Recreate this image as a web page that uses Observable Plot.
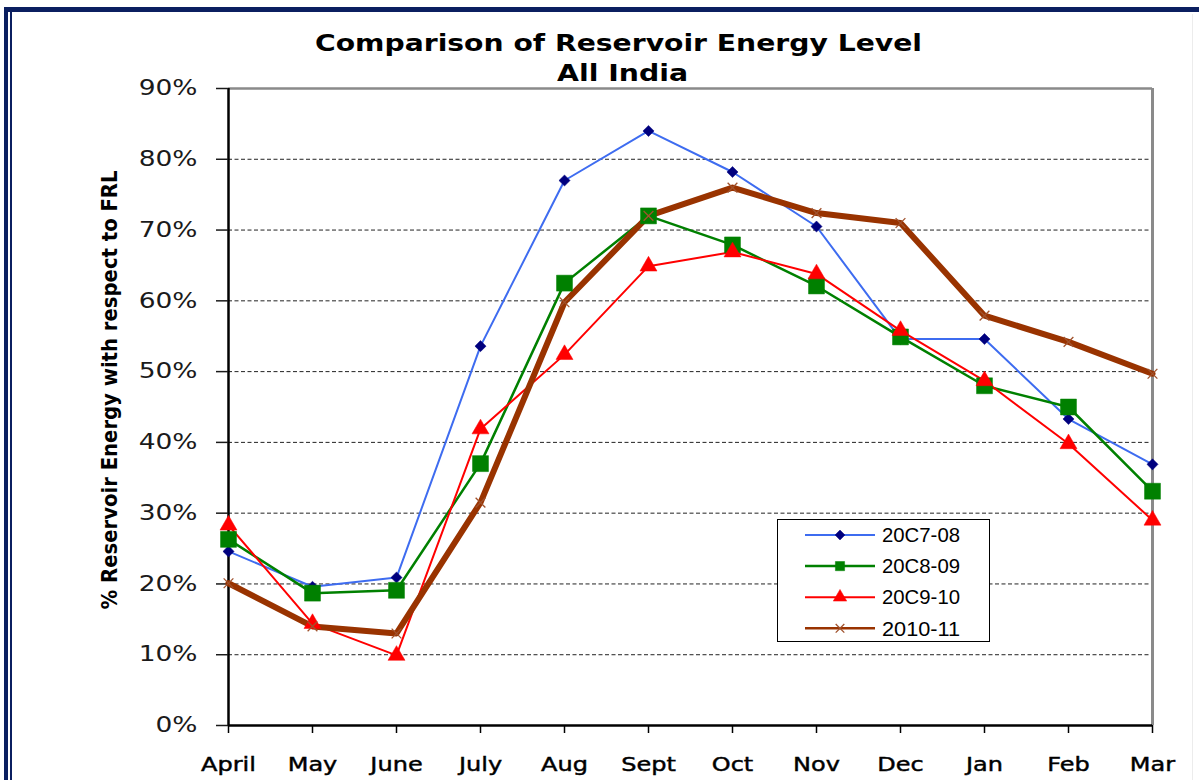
<!DOCTYPE html>
<html>
<head>
<meta charset="utf-8">
<script src="https://cdn.jsdelivr.net/npm/d3@7"></script>
<script src="https://cdn.jsdelivr.net/npm/@observablehq/plot@0.6"></script>
<style>
  html, body { margin: 0; padding: 0; background: #fff; }
  #wrap { position: relative; width: 1199px; height: 780px; overflow: hidden; background: #fff; }
  #wrap > svg { position: absolute; left: 0; top: 0; }
  .fr { position: absolute; background: #0b1f60; }
  #overlay { pointer-events: none; }
</style>
</head>
<body>
<div id="wrap">
  <div class="fr" style="left:4px;top:7px;width:1195px;height:5px;"></div>
  <div class="fr" style="left:4px;top:7px;width:4px;height:773px;"></div>
  <div class="fr" style="left:10px;top:12px;width:2px;height:768px;"></div>
  <div style="position:absolute;left:1192px;top:14px;width:1px;height:766px;background:#ececec;"></div>
</div>
<script>
// ---------------- data ----------------
const months = ["April", "May", "June", "July", "Aug", "Sept", "Oct", "Nov", "Dec", "Jan", "Feb", "Mar"];
const seriesNames = ["20C7-08", "20C8-09", "20C9-10", "2010-11"];
const values2007 = [24.6, 19.6, 20.9, 53.6, 77.0, 84.0, 78.2, 70.5, 54.6, 54.6, 43.3, 36.9];
const values2008 = [26.3, 18.7, 19.1, 37.0, 62.5, 72.0, 67.9, 62.1, 54.9, 48.0, 45.0, 33.1];
const values2009 = [28.3, 14.4, 9.9, 41.9, 52.4, 64.9, 66.9, 63.8, 55.8, 48.7, 39.8, 29.0];
const values2010 = [20.1, 14.0, 13.0, 31.5, 59.8, 72.0, 76.0, 72.4, 71.0, 57.9, 54.2, 49.7];
const yTicks = [0, 10, 20, 30, 40, 50, 60, 70, 80, 90];
const gridValues = [10, 20, 30, 40, 50, 60, 70, 80];
const titleLines = ["Comparison of Reservoir Energy Level", "All India"];
const yAxisTitle = "% Reservoir Energy with respect to FRL";

// ---------------- styles ----------------
const lineColors = ["#3e6cf0", "#008000", "#ff0000", "#993300"];
const markerColors = ["#00007e", "#008000", "#ff0000", "#a0522d"];
const lineWidths = [2, 2.5, 2, 6];
const symbols = ["diamond2", "square", "triangle", "times"];
const radii = [5, 9, 6.3, 4.5];

const allValues = [values2007, values2008, values2009, values2010];
const data = [];
seriesNames.forEach((name, i) => months.forEach((m, j) => data.push({series: name, month: m, value: allValues[i][j]})));
const bySeries = name => data.filter(d => d.series === name);

const marks = [
  Plot.ruleY(gridValues, {stroke: "#222", strokeWidth: 1, strokeDasharray: "4,2.5"}),
  Plot.ruleY([90], {stroke: "#8a8a8a", strokeWidth: 2.5}),
  Plot.ruleX([months[months.length - 1]], {stroke: "#8a8a8a", strokeWidth: 3}),
  Plot.ruleX([months[0]], {stroke: "#000", strokeWidth: 2.5}),
  Plot.ruleY([0], {stroke: "#000", strokeWidth: 2.5}),
  Plot.axisY(yTicks, {tickFormat: d => d + "%", tickSize: 12, tickPadding: 19, fontSize: 21,
    fontFamily: "DejaVu Sans", color: "#1a1a1a", strokeWidth: 1.5, label: null}),
  Plot.axisX({tickSize: 8, tickPadding: 23, fontSize: 20, fontFamily: "DejaVu Sans",
    color: "#000", strokeWidth: 1.5, label: null})
];
seriesNames.forEach((name, i) => {
  marks.push(Plot.line(bySeries(name), {x: "month", y: "value", stroke: lineColors[i], strokeWidth: lineWidths[i], strokeLinejoin: "round"}));
});
seriesNames.forEach((name, i) => {
  const isStroke = symbols[i] === "times";
  marks.push(Plot.dot(bySeries(name), {
    x: "month", y: "value", symbol: symbols[i], r: radii[i],
    fill: isStroke ? "none" : markerColors[i],
    stroke: markerColors[i], strokeWidth: isStroke ? 1.3 : 0.5
  }));
});

const chart = Plot.plot({
  width: 1199, height: 780,
  marginLeft: 228, marginRight: 47, marginTop: 88, marginBottom: 55,
  style: {background: "transparent", overflow: "visible"},
  x: {type: "point", domain: months, padding: 0, label: null},
  y: {domain: [0, 90], label: null},
  marks
});

const wrap = document.getElementById("wrap");
wrap.appendChild(chart);

function stretch(sel, factor) {
  sel.each(function () {
    const L = this.getComputedTextLength();
    this.setAttribute("textLength", (L * factor).toFixed(1));
    this.setAttribute("lengthAdjust", "spacingAndGlyphs");
  });
}
const cs = d3.select(chart);
stretch(cs.selectAll('g[aria-label="y-axis tick label"] text'), 1.26);
stretch(cs.selectAll('g[aria-label="x-axis tick label"] text'), 1.2);
cs.selectAll('g[aria-label="x-axis tick label"] text').attr("stroke", "#000").attr("stroke-width", 0.45);

// ---------------- overlay: titles + legend ----------------
const ov = d3.select(wrap).append("svg").attr("id", "overlay")
  .attr("width", 1199).attr("height", 780);

ov.append("text").attr("x", 618.5).attr("y", 51).attr("text-anchor", "middle")
  .attr("font-family", "DejaVu Sans").attr("font-weight", "bold").attr("font-size", 23)
  .attr("fill", "#000").attr("textLength", 607).attr("lengthAdjust", "spacingAndGlyphs")
  .text(titleLines[0]);
ov.append("text").attr("x", 622.5).attr("y", 81).attr("text-anchor", "middle")
  .attr("font-family", "DejaVu Sans").attr("font-weight", "bold").attr("font-size", 23)
  .attr("fill", "#000").attr("textLength", 131).attr("lengthAdjust", "spacingAndGlyphs")
  .text(titleLines[1]);

ov.append("text").attr("transform", "translate(117,390) rotate(-90)").attr("text-anchor", "middle")
  .attr("font-family", "DejaVu Sans").attr("font-weight", "bold").attr("font-size", 22)
  .attr("fill", "#000").attr("textLength", 439).attr("lengthAdjust", "spacingAndGlyphs")
  .text(yAxisTitle);

const lg = ov.append("g");
lg.append("rect").attr("x", 777.5).attr("y", 519.5).attr("width", 212).attr("height", 122)
  .attr("fill", "#fff").attr("stroke", "#000").attr("stroke-width", 1);
const legendSymbols = [d3.symbolDiamond2, d3.symbolSquare, d3.symbolTriangle, d3.symbolTimes];
const legendSizes = [6 * 6 * Math.PI * 0.55, 5.2 * 5.2 * Math.PI, 5 * 5 * Math.PI, 4 * 4 * Math.PI];
seriesNames.forEach((name, i) => {
  const cy = 535 + i * 31.1;
  lg.append("line").attr("x1", 805).attr("x2", 875).attr("y1", cy).attr("y2", cy)
    .attr("stroke", lineColors[i]).attr("stroke-width", i === 3 ? 2.5 : lineWidths[i]);
  const isStroke = i === 3;
  lg.append("path").attr("transform", `translate(840,${cy})`)
    .attr("d", d3.symbol(legendSymbols[i], legendSizes[i])())
    .attr("fill", isStroke ? "none" : markerColors[i])
    .attr("stroke", markerColors[i]).attr("stroke-width", isStroke ? 1.3 : 0.5);
  lg.append("text").attr("x", 882).attr("y", cy).attr("dy", "0.36em")
    .attr("font-family", "Liberation Sans").attr("font-size", 20).attr("fill", "#000")
    .attr("textLength", 78).attr("lengthAdjust", "spacingAndGlyphs")
    .text(name);
});
</script>
</body>
</html>
